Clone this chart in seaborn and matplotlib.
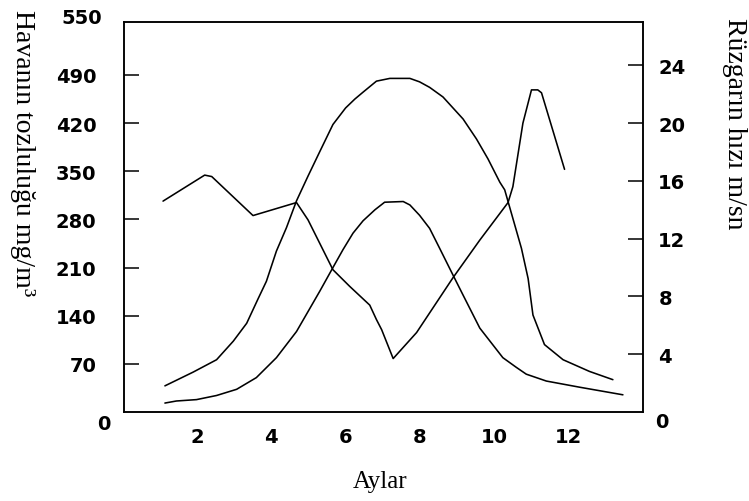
import matplotlib
matplotlib.use("Agg")
import matplotlib.pyplot as plt
import seaborn as sns
import pandas as pd

# ---- data ----
month_a = [1.14, 1.90, 2.53, 2.98, 3.34, 3.65, 3.87, 4.14, 4.41, 4.68, 4.99, 5.31, 5.66,
           6.00, 6.25, 6.47, 6.83, 7.19, 7.73, 7.99, 8.26, 8.62, 9.16, 9.52, 9.83,
           10.15, 10.28, 10.73, 10.91, 11.04, 11.35, 11.85, 12.56, 13.19]
dust_a = [38, 58, 76, 103, 129, 165, 190, 234, 268, 307, 343, 379, 418,
          442, 455, 465, 481, 485, 485, 480, 472, 458, 426, 397, 368,
          334, 323, 238, 194, 141, 98, 76, 59, 47]

month_b = [1.14, 1.45, 1.99, 2.53, 3.07, 3.60, 4.14, 4.68, 4.99, 5.31, 5.66, 5.93, 6.20,
           6.47, 6.79, 7.05, 7.55, 7.73, 7.99, 8.26, 8.53, 8.89, 9.16, 9.61, 10.23,
           10.59, 10.86, 11.40, 12.30, 13.46]
dust_b = [13, 16, 18, 24, 33, 50, 79, 117, 146, 176, 210, 236, 260,
          278, 294, 305, 306, 301, 286, 267, 238, 199, 170, 122, 79,
          65, 55, 45, 36, 25]

month_w = [1.09, 2.21, 2.40, 3.51, 4.68, 4.99, 5.66, 6.11, 6.65, 6.83, 6.97, 7.28, 7.91,
           8.89, 9.61, 10.37, 10.50, 10.77, 11.00, 11.17, 11.27, 11.89]
wind = [14.6, 16.4, 16.3, 13.6, 14.5, 13.3, 9.85, 8.7, 7.4, 6.4, 5.7, 3.7, 5.5,
        9.3, 11.9, 14.5, 15.6, 20.0, 22.3, 22.3, 22.1, 16.8]

x_ticks = [2, 4, 6, 8, 10, 12]
left_ticks = [70, 140, 210, 280, 350, 420, 490]
right_ticks = [4, 8, 12, 16, 20, 24]

left_label = "Havanın tozluluğu mg/m³"
right_label = "Rüzgarın hızı m/sn"
x_label = "Aylar"

# ---- style ----
sns.set_style("white")
plt.rcParams["font.family"] = ["DejaVu Sans"]
plt.rcParams["text.color"] = "black"
plt.rcParams["xtick.color"] = "black"
plt.rcParams["ytick.color"] = "black"
plt.rcParams["axes.labelcolor"] = "black"

W, H = 749, 502
fig = plt.figure(figsize=(W / 100, H / 100), dpi=100)
L, R, T, B = 124, 643, 23, 413
ax = fig.add_axes([L / W, 1 - B / H, (R - L) / W, (B - T) / H])
ax2 = ax.twinx()

df_a = pd.DataFrame({"x": month_a, "y": dust_a})
df_b = pd.DataFrame({"x": month_b, "y": dust_b})
df_w = pd.DataFrame({"x": month_w, "y": wind})

lw = 1.15
sns.lineplot(data=df_a, x="x", y="y", ax=ax, color="black", lw=lw, sort=False, estimator=None)
sns.lineplot(data=df_b, x="x", y="y", ax=ax, color="black", lw=lw, sort=False, estimator=None)
sns.lineplot(data=df_w, x="x", y="y", ax=ax2, color="black", lw=lw, sort=False, estimator=None)

ax.set_xlim(0.04, 14.0)
ax.set_ylim(0, 567)
ax2.set_ylim(0, 27)

tick_font = dict(family="DejaVu Sans", weight="bold", size=14, color="black")

ax.set_xticks(x_ticks)
ax.set_xticklabels([str(v) for v in x_ticks], **tick_font)
ax.set_yticks(left_ticks)
ax.set_yticklabels([str(v) for v in left_ticks], **tick_font)
ax2.set_yticks(right_ticks)
ax2.set_yticklabels([str(v) for v in right_ticks], **tick_font)

ax.tick_params(axis="x", direction="in", length=15, width=1.1, pad=11, color="black")
ax.tick_params(axis="y", direction="in", length=11, width=1.1, pad=20, color="black")
ax2.tick_params(axis="y", direction="in", length=11, width=1.1, pad=11, color="black")

for a in (ax, ax2):
    for s in a.spines.values():
        s.set_visible(True)
        s.set_color("black")
        s.set_linewidth(1.1)
    a.set_xlabel("")
    a.set_ylabel("")

# extra end labels (0 and 550) as in the reference
fig.text(110 / W, 1 - 425 / H, "0", ha="right", va="center", **tick_font)
fig.text(102 / W, 1 - 18 / H, "550", ha="right", va="center", **tick_font)
fig.text(655 / W, 1 - 423 / H, "0", ha="left", va="center", **tick_font)

serif = dict(family="Liberation Serif", size=18, color="black")
ax.set_xlabel(x_label, **serif)
ax.xaxis.set_label_coords((380 - L) / (R - L), (B - 471) / (B - T))
ax.xaxis.label.set_va("top")

serif_v = dict(family="Liberation Serif", size=20, color="black")
fig.text(22 / W, 1 - 10 / H, left_label, rotation=-90, ha="center", va="top", **serif_v)
fig.text(735 / W, 1 - 18 / H, right_label, rotation=-90, ha="center", va="top", **serif_v)

fig.savefig("out.png", dpi=100)
